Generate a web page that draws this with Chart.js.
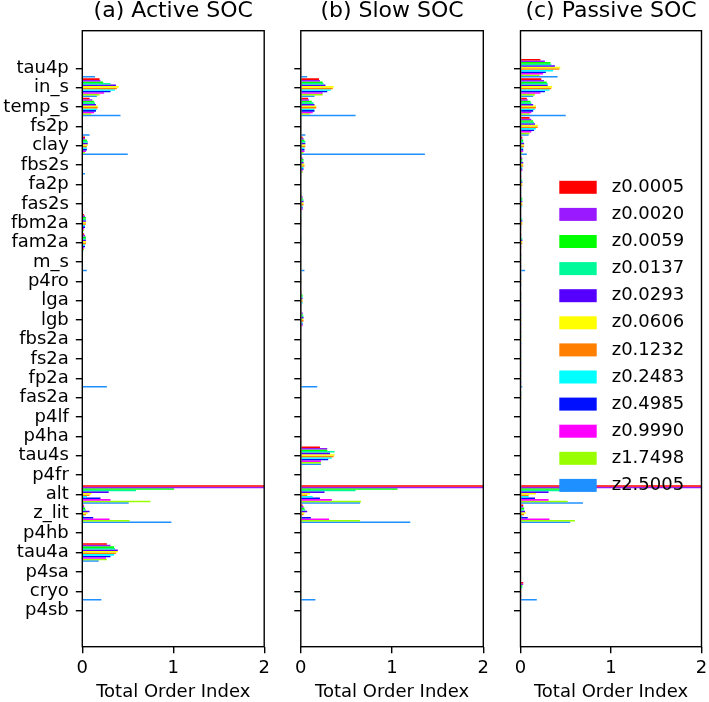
<!DOCTYPE html>
<html><head><meta charset="utf-8">
<script src="https://cdn.jsdelivr.net/npm/chart.js@4"></script>
<style>
html,body{margin:0;padding:0;overflow:hidden;background:#fff;width:709px;height:702px;}
canvas{position:absolute;top:0;}
</style></head><body>
<canvas id="cA" width="282" height="702" style="left:0px"></canvas>
<canvas id="cB" width="220" height="702" style="left:282px"></canvas>
<canvas id="cC" width="220" height="702" style="left:502px"></canvas>
<script>
const parameters = ['tau4p','in_s','temp_s','fs2p','clay','fbs2s','fa2p','fas2s','fbm2a','fam2a','m_s','p4ro','lga','lgb','fbs2a','fs2a','fp2a','fas2a','p4lf','p4ha','tau4s','p4fr','alt','z_lit','p4hb','tau4a','p4sa','cryo','p4sb'];
const depths = ['z0.0005','z0.0020','z0.0059','z0.0137','z0.0293','z0.0606','z0.1232','z0.2483','z0.4985','z0.9990','z1.7498','z2.5005'];
const depthColors = ['#ff0000','#9a19ff','#00ff00','#00fa9a','#5500ff','#ffff00','#ff8000','#00ffff','#0010ff','#ff00ff','#99ff00','#1e90ff'];
const panelTitles = ['(a) Active SOC','(b) Slow SOC','(c) Passive SOC'];
const xAxisTitle = 'Total Order Index';
const xTicks = [0, 1, 2];

// rows follow `parameters`, columns follow `depths`
const activeSOC = [
  [0,0,0,0,0,0,0,0,0,0,0,0.14],
  [0.19,0.20,0.23,0.31,0.37,0.40,0.38,0.36,0.31,0.24,0.19,0.16],
  [0.08,0.11,0.13,0.14,0.15,0.17,0.17,0.16,0.15,0.13,0.10,0.42],
  [0,0,0,0,0,0,0,0,0,0,0,0.08],
  [0.03,0.03,0.05,0.06,0.06,0.06,0.05,0.05,0.05,0.04,0.03,0.50],
  [0,0,0,0,0,0,0,0,0,0,0,0.03],
  [0,0,0,0,0,0,0,0,0,0,0,0.01],
  [0,0,0,0,0,0,0,0,0,0,0,0],
  [0.02,0.03,0.04,0.04,0.04,0.04,0.04,0.03,0.03,0.02,0.02,0.01],
  [0.02,0.03,0.04,0.04,0.04,0.04,0.04,0.03,0.03,0.02,0.02,0.01],
  [0,0,0,0,0,0,0,0,0,0,0,0.05],
  [0,0,0,0,0,0,0,0,0,0,0,0],
  [0,0,0,0,0,0,0,0,0,0,0,0],
  [0,0,0,0,0,0,0,0,0,0,0,0],
  [0,0,0,0,0,0,0,0,0,0,0,0],
  [0,0,0,0,0,0,0,0,0,0,0,0],
  [0,0,0,0,0,0,0,0,0,0,0,0.27],
  [0,0,0,0,0,0,0,0,0,0,0,0],
  [0,0,0,0,0,0,0,0,0,0,0,0],
  [0,0,0,0,0,0,0,0,0,0,0,0],
  [0,0,0,0,0,0,0,0,0,0,0,0],
  [0,0,0,0,0,0,0,0,0,0,0,0],
  [2.5,2.5,1.01,0.59,0.29,0.10,0.08,0.05,0.20,0.31,0.75,0.51],
  [0.015,0.02,0.03,0.04,0.08,0.06,0.04,0.02,0.12,0.30,0.52,0.98],
  [0,0,0,0,0,0,0,0,0,0,0,0],
  [0.27,0.31,0.35,0.36,0.39,0.39,0.37,0.35,0.31,0.26,0.27,0.18],
  [0,0,0,0,0,0,0,0,0,0,0,0],
  [0,0,0,0,0,0,0,0,0,0,0,0.21],
  [0,0,0,0,0,0,0,0,0,0,0,0]
];
const slowSOC = [
  [0,0,0,0,0,0,0,0,0,0,0,0.07],
  [0.20,0.21,0.24,0.25,0.27,0.36,0.35,0.33,0.29,0.24,0.24,0.15],
  [0.08,0.09,0.12,0.14,0.15,0.17,0.17,0.15,0.15,0.13,0.10,0.60],
  [0,0,0,0,0,0,0,0,0,0,0,0.05],
  [0.02,0.03,0.04,0.05,0.05,0.05,0.05,0.04,0.04,0.04,0.03,1.36],
  [0.01,0.02,0.03,0.03,0.03,0.04,0.04,0.03,0.03,0.02,0.02,0.01],
  [0,0,0,0,0,0,0,0,0,0,0,0.01],
  [0.01,0.02,0.02,0.03,0.03,0.03,0.03,0.02,0.02,0.02,0.01,0.01],
  [0,0,0.01,0.01,0.01,0.01,0.01,0.01,0,0,0,0],
  [0,0,0.01,0.01,0.01,0.01,0.01,0.01,0,0,0,0],
  [0,0,0,0,0,0,0,0,0,0,0,0.04],
  [0,0,0,0.01,0.01,0.01,0.01,0.01,0,0,0,0],
  [0.01,0.01,0.02,0.02,0.02,0.02,0.02,0.02,0.01,0.01,0.01,0.01],
  [0.01,0.02,0.02,0.03,0.03,0.03,0.03,0.02,0.02,0.02,0.01,0.01],
  [0,0,0,0,0,0,0,0,0,0,0,0],
  [0,0,0,0,0,0,0,0,0,0,0,0],
  [0,0,0,0,0,0,0,0,0,0,0,0.18],
  [0,0,0,0,0,0,0,0,0,0,0,0],
  [0,0,0,0,0,0,0,0,0,0,0,0],
  [0,0,0,0,0,0,0,0,0,0,0,0],
  [0.21,0.29,0.29,0.37,0.32,0.37,0.36,0.34,0.30,0.22,0.22,0.22],
  [0,0,0,0,0,0,0,0,0,0,0,0],
  [2.5,2.5,1.06,0.60,0.26,0.10,0.07,0.13,0.21,0.34,0.66,0.65],
  [0.02,0.03,0.04,0.05,0.07,0.04,0.03,0.01,0.11,0.31,0.65,1.20],
  [0,0,0,0,0,0,0,0,0,0,0,0],
  [0,0,0,0,0,0,0,0,0,0,0,0],
  [0,0,0,0,0,0,0,0,0,0,0,0],
  [0,0,0,0,0,0,0,0,0,0,0,0.16],
  [0,0,0,0,0,0,0,0,0,0,0,0]
];
const passiveSOC = [
  [0.22,0.27,0.33,0.34,0.38,0.44,0.43,0.36,0.28,0.25,0.21,0.41],
  [0.23,0.26,0.29,0.30,0.30,0.35,0.34,0.32,0.27,0.22,0.16,0.14],
  [0.07,0.08,0.11,0.12,0.14,0.17,0.17,0.16,0.14,0.12,0.10,0.50],
  [0.10,0.12,0.14,0.15,0.16,0.19,0.19,0.17,0.15,0.12,0.10,0.09],
  [0.02,0.02,0.03,0.03,0.04,0.04,0.04,0.03,0.03,0.03,0.02,0.07],
  [0.01,0.02,0.02,0.02,0.03,0.03,0.03,0.02,0.02,0.02,0.01,0.01],
  [0.01,0.01,0.01,0.02,0.02,0.02,0.02,0.01,0.01,0.01,0.01,0.01],
  [0.01,0.01,0.02,0.02,0.02,0.02,0.02,0.02,0.01,0.01,0.01,0.01],
  [0.01,0.01,0.01,0.02,0.02,0.02,0.02,0.01,0.01,0.01,0.01,0],
  [0.01,0.01,0.01,0.02,0.02,0.02,0.02,0.01,0.01,0.01,0.01,0],
  [0.01,0.01,0.01,0.01,0.01,0.01,0.01,0.01,0.01,0.01,0.01,0.05],
  [0,0.01,0.01,0.01,0.01,0.01,0.01,0.01,0.01,0,0,0],
  [0.01,0.01,0.01,0.01,0.01,0.01,0.01,0.01,0.01,0.01,0.01,0.01],
  [0.01,0.01,0.01,0.01,0.01,0.01,0.01,0.01,0.01,0.01,0.01,0.01],
  [0.01,0.01,0.01,0.01,0.01,0.01,0.01,0.01,0.01,0.01,0.01,0.01],
  [0.01,0.01,0.01,0.01,0.01,0.01,0.01,0.01,0.01,0.01,0.01,0.01],
  [0.01,0.01,0.01,0.01,0.01,0.01,0.01,0.01,0.01,0.01,0.01,0.02],
  [0,0,0.01,0.01,0.01,0.01,0.01,0.01,0,0,0,0],
  [0,0,0,0,0,0,0,0,0,0,0,0],
  [0,0,0,0,0,0,0,0,0,0,0,0],
  [0,0,0,0,0,0,0,0,0,0,0,0],
  [0,0,0,0,0,0,0,0,0,0,0,0],
  [2.5,2.5,0.70,0.55,0.31,0.17,0.09,0.09,0.16,0.31,0.52,0.69],
  [0.03,0.03,0.04,0.04,0.05,0.06,0.04,0.02,0.08,0.32,0.60,0.55],
  [0,0,0,0,0,0,0,0,0,0,0,0],
  [0,0,0,0,0,0,0,0,0,0,0,0],
  [0,0,0,0,0,0,0,0,0,0,0,0],
  [0.03,0.03,0.02,0.02,0.01,0.01,0.01,0.01,0.01,0.01,0.01,0.18],
  [0,0,0,0,0,0,0,0,0,0,0,0]
];

Chart.defaults.font.family = "'DejaVu Sans', sans-serif";
Chart.defaults.color = '#000';

const axesBox = {
  id: 'axesBox',
  afterDatasetsDraw(chart) {
    const {ctx, chartArea: a} = chart;
    ctx.save();
    ctx.strokeStyle = '#000';
    ctx.lineWidth = 1.4;
    ctx.strokeRect(a.left, a.top, a.right - a.left, a.bottom - a.top);
    ctx.restore();
  }
};

const insideLegend = {
  id: 'insideLegend',
  afterDraw(chart) {
    const {ctx, chartArea: a} = chart;
    const boxLeft = a.left + 38.8, firstY = a.top + 156.6, step = 27.1;
    const boxW = 37.4, boxH = 13;
    ctx.save();
    ctx.font = "18px 'DejaVu Sans', sans-serif";
    ctx.textBaseline = 'middle';
    ctx.textAlign = 'left';
    depths.forEach((d, j) => {
      const cy = firstY + j * step;
      ctx.fillStyle = depthColors[j];
      ctx.fillRect(boxLeft, cy - boxH / 2, boxW, boxH);
      ctx.fillStyle = '#000';
      ctx.fillText(d, boxLeft + 52.4, cy);
    });
    ctx.restore();
  }
};

function makePanel(id, title, table, showLabels, yAxisWidth, rightPad, withLegend) {
  const datasets = depths.map((d, j) => ({
    label: d,
    data: table.map((row, i) => ({x: row[j], y: i})),
    backgroundColor: depthColors[j],
    borderWidth: 0,
    categoryPercentage: 0.96,
    barPercentage: 1,
    clip: 0
  }));
  return new Chart(document.getElementById(id), {
    type: 'bar',
    data: {datasets},
    options: {
      indexAxis: 'y',
      responsive: false,
      animation: false,
      events: [],
      layout: {padding: {left: 0, right: rightPad, top: 0, bottom: 0}},
      plugins: {
        legend: {display: false},
        tooltip: {enabled: false},
        title: {
          display: true, text: title, fullSize: false, color: '#000',
          font: {size: 22, weight: 'normal', lineHeight: 1},
          padding: {top: 0.7, bottom: 8}
        }
      },
      scales: {
        x: {
          type: 'linear', position: 'bottom', min: 0, max: 2, offset: false,
          afterBuildTicks: ax => { ax.ticks = xTicks.map(v => ({value: v})); },
          afterFit: ax => { ax.height = 55.3; },
          grid: {offset: false, drawOnChartArea: false, drawTicks: true, tickLength: 6.5, color: '#000', lineWidth: 1.4},
          border: {display: false},
          ticks: {font: {size: 18}, padding: 4, color: '#000', maxRotation: 0, autoSkip: false},
          title: {display: true, text: xAxisTitle, color: '#000', font: {size: 18, lineHeight: 1}, padding: {top: 0, bottom: 0.3}}
        },
        y: {
          type: 'linear', position: 'left', reverse: true, min: -1.94, max: 29.86, offset: false,
          afterBuildTicks: ax => { ax.ticks = parameters.map((p, i) => ({value: i})); },
          afterFit: ax => { ax.width = yAxisWidth; },
          grid: {offset: false, drawOnChartArea: false, drawTicks: true, tickLength: 6.5, color: '#000', lineWidth: 1.4},
          border: {display: false},
          ticks: {
            autoSkip: false, font: {size: 18}, padding: 7, color: '#000',
            callback: v => showLabels ? parameters[v] : ''
          }
        }
      }
    },
    plugins: withLegend ? [axesBox, insideLegend] : [axesBox]
  });
}

makePanel('cA', panelTitles[0], activeSOC, true, 82.3, 17.8, false);
makePanel('cB', panelTitles[1], slowSOC, false, 18.8, 18.7, false);
makePanel('cC', panelTitles[2], passiveSOC, false, 18.5, 20.5, true);
</script>
</body></html>
